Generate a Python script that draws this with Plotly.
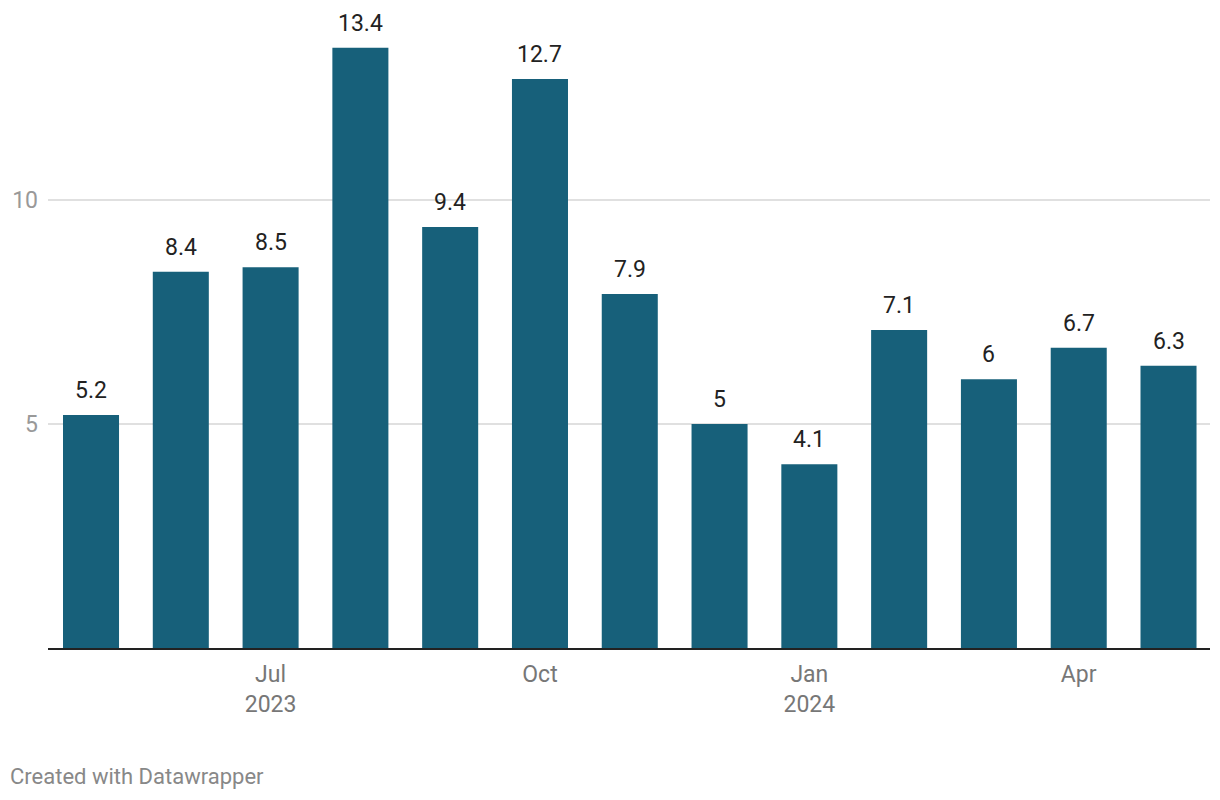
import plotly.graph_objects as go

months = ["May 2023", "Jun 2023", "Jul 2023", "Aug 2023", "Sep 2023", "Oct 2023",
          "Nov 2023", "Dec 2023", "Jan 2024", "Feb 2024", "Mar 2024", "Apr 2024", "May 2024"]
values = [5.2, 8.4, 8.5, 13.4, 9.4, 12.7, 7.9, 5, 4.1, 7.1, 6, 6.7, 6.3]
tick_months = ["Jul 2023", "Oct 2023", "Jan 2024", "Apr 2024"]
tick_text = ["Jul<br>2023", "Oct", "Jan<br>2024", "Apr"]
y_ticks = [5, 10]

labels = [f"{v:g}" for v in values]

fig = go.Figure(go.Bar(
    x=months, y=values,
    marker=dict(color="#17607a", line=dict(width=0)),
    hoverinfo="skip",
))

# page body has an 8px offset; plot area on screen: x 48..1210, y 20..648
left, right_edge = 40, 1202
top, base = 12, 640
plot_w = right_edge - left
plot_h = base - top

annotations = [dict(
    x=m, y=v, text=t, xref="x", yref="y", yanchor="bottom", xanchor="center",
    yshift=9, showarrow=False,
    font=dict(family="Roboto", size=23, color="#222222"),
) for m, v, t in zip(months, values, labels)]

annotations.append(dict(
    text="Created with Datawrapper", xref="paper", yref="paper",
    x=(0 - left) / plot_w, y=-(768 - base) / plot_h, xanchor="left", yanchor="middle",
    showarrow=False, font=dict(family="Roboto", size=22, color="#888888"),
))

fig.update_layout(
    width=1220, height=800,
    margin=dict(l=left, r=1220 - right_edge, t=top, b=800 - base, autoexpand=False),
    paper_bgcolor="white", plot_bgcolor="white",
    bargap=0.376, showlegend=False,
    font=dict(family="Roboto"),
    xaxis=dict(
        type="category", tickmode="array", tickvals=tick_months, ticktext=tick_text,
        tickfont=dict(family="Roboto", size=23, color="#777777"),
        showgrid=False, ticks="", showline=True, linecolor="#222222", linewidth=2,
        zeroline=False, range=[-0.479, 12.462], ticklabelstandoff=4, automargin=False,
    ),
    yaxis=dict(
        range=[0, plot_h / 44.8], tickvals=y_ticks,
        tickfont=dict(family="Roboto", size=23, color="#999999"),
        showgrid=True, gridcolor="#e0e0e0", gridwidth=1.5,
        zeroline=False, showline=False, ticks="", ticklabelstandoff=9, automargin=False,
    ),
    annotations=annotations,
)

fig.write_html("out.html")
